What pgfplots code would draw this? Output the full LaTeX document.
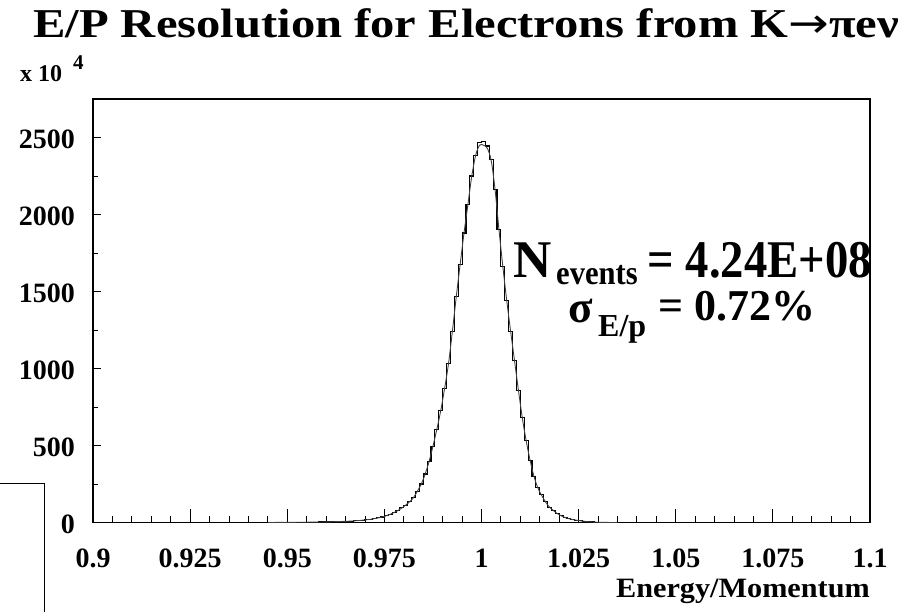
\documentclass[border=0pt]{standalone}
\usepackage{pgfplots}
\pgfplotsset{compat=1.18}
\usepackage{fontspec}
\setmainfont{Liberation Serif}
\newfontfamily\arrowfont{DejaVu Sans}
\pgfplotstableread{
x y
0.900 0
0.950 1
0.955 2
0.958 3
0.960 4
0.962 5
0.963 6
0.964 7
0.965 8
0.966 9
0.967 11
0.968 13
0.969 15
0.970 18
0.971 21
0.972 25
0.973 30
0.974 36
0.975 43
0.976 53
0.977 64
0.978 78
0.979 95
0.980 113
0.981 135
0.982 162
0.983 200
0.984 250
0.985 315
0.986 395
0.987 495
0.988 605
0.989 725
0.990 870
0.991 1030
0.992 1240
0.993 1465
0.994 1675
0.995 1880
0.996 2065
0.997 2250
0.998 2385
0.999 2465
1.000 2475
1.001 2445
1.002 2360
1.003 2160
1.004 1900
1.005 1660
1.006 1440
1.007 1240
1.008 1050
1.009 860
1.010 680
1.011 530
1.012 405
1.013 300
1.014 225
1.015 180
1.016 135
1.017 100
1.018 75
1.019 58
1.020 44
1.021 32
1.022 24
1.023 19
1.024 15
1.025 11
1.026 8
1.027 5
1.028 3
1.029 2
1.030 1
1.032 0
1.100 0
}\histdata
\pgfplotstableread{
x y
0.9450 0
0.9505 1
0.9555 2
0.9605 4
0.9655 8
0.9685 13
0.9715 21
0.9745 36
0.9765 53
0.9785 78
0.9805 113
0.9825 162
0.9845 250
0.9855 315
0.9865 395
0.9875 495
0.9885 605
0.9895 725
0.9905 870
0.9915 1030
0.9925 1240
0.9935 1465
0.9945 1675
0.9955 1880
0.9965 2065
0.9975 2250
0.9985 2385
0.9995 2450
1.0005 2450
1.0015 2430
1.0025 2350
1.0035 2160
1.0045 1900
1.0055 1660
1.0065 1440
1.0075 1240
1.0085 1050
1.0095 860
1.0105 680
1.0115 530
1.0125 405
1.0135 300
1.0145 225
1.0155 175
1.0165 133
1.0175 100
1.0195 58
1.0215 32
1.0235 19
1.0255 11
1.0275 5
1.0305 1
1.0350 0
}\fitdata
\begin{document}
\begin{tikzpicture}[x=1pt,y=1pt]
\path[use as bounding box] (0,0) rectangle (901,612);
\begin{axis}[
  at={(93pt,89.5pt)}, anchor=south west,
  scale only axis, width=777pt, height=423.5pt,
  xmin=0.9, xmax=1.1, ymin=0, ymax=2750,
  axis line style={line width=1.2pt},
  xtick={0.9,0.925,0.95,0.975,1,1.025,1.05,1.075,1.1},
  xticklabels={0.9,0.925,0.95,0.975,1,1.025,1.05,1.075,1.1},
  ytick={0,500,1000,1500,2000,2500},
  yticklabels={0,500,1000,1500,2000,2500},
  minor x tick num=4, minor y tick num=1,
  xtick pos=lower, ytick pos=left,
  tick align=inside,
  major tick length=13pt, minor tick length=6.5pt,
  every major y tick/.append style={/pgfplots/major tick length=8pt},
  every minor y tick/.append style={/pgfplots/minor tick length=4.5pt},
  tick style={line width=0.9pt, black},
  xticklabel style={font=\bfseries\fontsize{28}{28}\selectfont, anchor=base, yshift=-45.5pt, inner sep=0pt},
  yticklabel style={font=\bfseries\fontsize{28}{28}\selectfont, anchor=base east, xshift=-18pt, yshift=-11pt, inner sep=0pt},
  clip=false,
]
\addplot[const plot, black, line width=1.1pt] table[x=x,y=y]{\histdata};
\addplot[smooth, tension=0.5, black!75, line width=0.9pt] table[x=x,y=y]{\fitdata};
\end{axis}
\node[anchor=base west, inner sep=0pt, xscale=1.185, font=\bfseries\fontsize{41}{41}\selectfont] at (33,574) {E/P Resolution for Electrons from K{\arrowfont\mdseries →}πeν};
\node[anchor=base west, inner sep=0pt, font=\bfseries\fontsize{24}{24}\selectfont] at (20,530) {x 10};
\node[anchor=base west, inner sep=0pt, font=\bfseries\fontsize{21}{21}\selectfont] at (73,542) {4};
\node[anchor=base east, inner sep=0pt, xscale=1.08, font=\bfseries\fontsize{28}{28}\selectfont] at (870,14) {Energy/Momentum};
\node[anchor=base west, inner sep=0pt, font=\bfseries\fontsize{53}{53}\selectfont] at (513,334) {N};
\node[anchor=base west, inner sep=0pt, xscale=0.9, text depth=0pt, font=\bfseries\fontsize{34}{34}\selectfont] at (556,327) {events};
\node[anchor=base east, inner sep=0pt, xscale=0.88, font=\bfseries\fontsize{53}{53}\selectfont] at (872,334) {= 4.24E+08};
\node[anchor=base west, inner sep=0pt, text height=22pt, font=\bfseries\fontsize{45}{45}\selectfont] at (568,289) {σ};
\node[anchor=base west, inner sep=0pt, font=\bfseries\fontsize{32}{32}\selectfont] at (598,275) {E/p};
\node[anchor=base west, inner sep=0pt, font=\bfseries\fontsize{44}{44}\selectfont] at (658,291) {= 0.72\%};
\draw[line width=1pt] (0,128) -- (44,128) -- (44,0);
\end{tikzpicture}
\end{document}
